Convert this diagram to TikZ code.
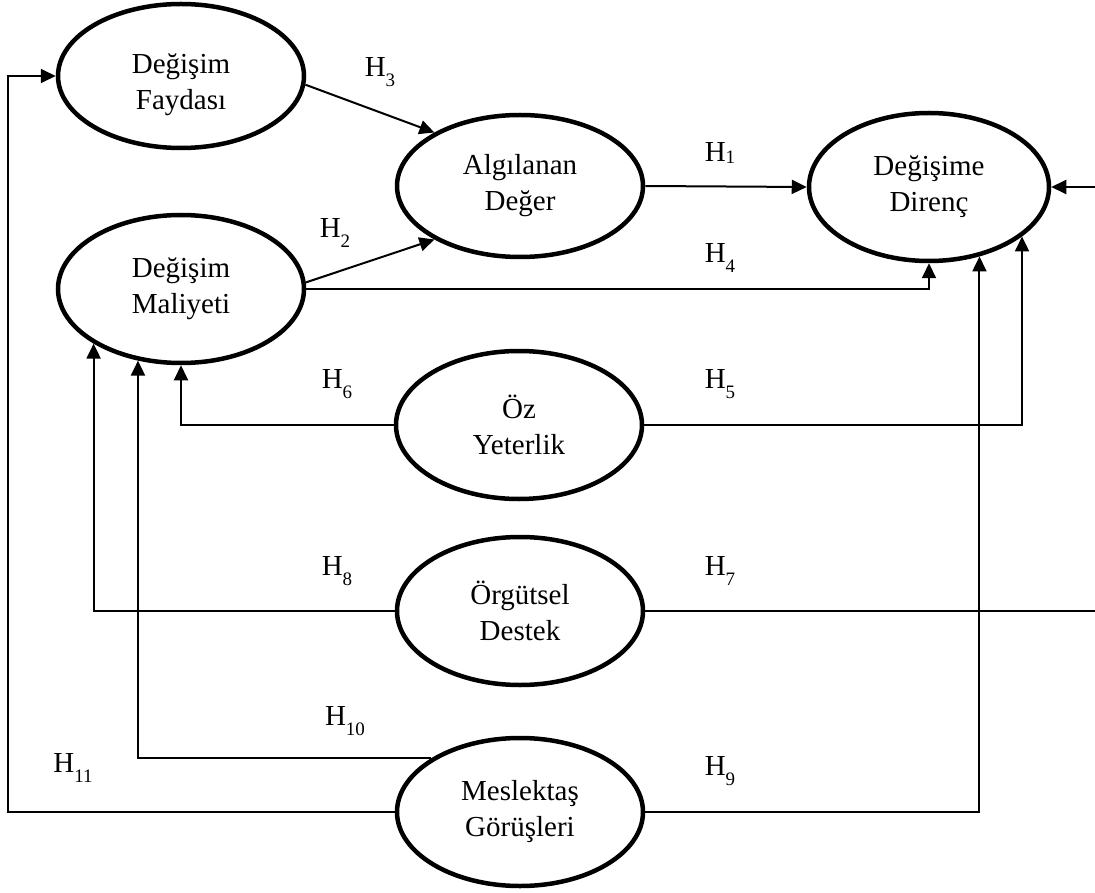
\documentclass[tikz,border=0pt]{standalone}
\usepackage{fontspec}
\setmainfont{Liberation Serif}
\usetikzlibrary{shapes.geometric,arrows.meta}
\newcommand\Hsub[2][-0.32em]{H\raisebox{#1}{\fontsize{19}{19}\selectfont #2}}
\begin{document}
\begin{tikzpicture}[x=1pt,y=-1pt,
  var/.style={ellipse,draw,line width=4.5pt,minimum width=246pt,minimum height=148pt,inner sep=0pt,align=center,font=\fontsize{29}{36}\selectfont},
  conn/.style={line width=2pt},
  arr/.style={conn,-{Triangle[length=15pt,width=14pt]}},
  hlab/.style={font=\fontsize{29}{29}\selectfont,inner sep=0pt,anchor=center}]
\useasboundingbox (0,0) rectangle (1095,893);
\clip (0,0) rectangle (1095,893);

% variables
\node[var,minimum height=144pt] (fay) at (181,76) {\rule{0pt}{38pt}Değişim\\Faydası};
\node[var,minimum height=142pt] (alg) at (520,186) {Algılanan\\Değer};
\node[var,minimum width=240pt] (dir) at (929,187) {Değişime\\Direnç};
\node[var] (mal) at (181,289) {Değişim\\Maliyeti};
\node[var] (oz) at (519,425) {Öz\\Yeterlik};
\node[var] (org) at (520,611) {Örgütsel\\Destek};
\node[var] (mes) at (520,812) {Meslektaş\\Görüşleri};

% helper coordinates
\coordinate (rin) at (1110,187);
\coordinate (l11) at (8,76);

% connectors
\draw[arr] (fay.-4.7) -- (alg.148.5);
\draw[arr] (mal.3.2) -- (alg.-148);
\draw[arr] (alg.east) -- (dir.west);
\draw[arr] (mal.east) -| (dir.south);
\draw[arr] (oz.east) -| (dir.-28.8);
\draw[arr] (mes.east) -| (dir.-54.8);
\draw[arr] (org.east) -| (rin) -- (dir.east);
\draw[arr] (oz.west) -| (mal.south);
\draw[arr] (org.west) -| (mal.-148.8);
\draw[arr] (mes.149.7) -| (mal.-121.7);
\draw[arr] (mes.west) -| (l11) -- (fay.west);

% labels
\node[hlab] (h3) at (380,72) {\Hsub{3}};
\node[hlab] (h1) at (720,153) {\Hsub[-0.05em]{1}};
\node[hlab] (h2) at (335,233) {\Hsub{2}};
\node[hlab] (h4) at (720,258) {\Hsub{4}};
\node[hlab] (h6) at (337,384) {\Hsub{6}};
\node[hlab] (h5) at (720,384) {\Hsub{5}};
\node[hlab] (h8) at (337,571) {\Hsub{8}};
\node[hlab] (h7) at (720,571) {\Hsub{7}};
\node[hlab] (h10) at (345,721) {\Hsub{10}};
\node[hlab] (h11) at (73,768) {\Hsub{11}};
\node[hlab] (h9) at (720,771) {\Hsub{9}};
\end{tikzpicture}
\end{document}
